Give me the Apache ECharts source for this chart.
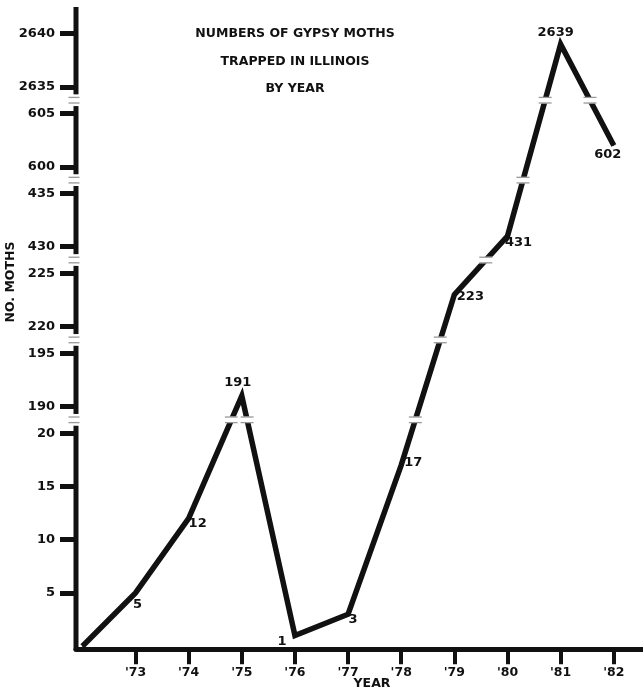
<!DOCTYPE html>
<html>
<head>
<meta charset="utf-8">
<script src="https://cdn.jsdelivr.net/npm/echarts@6/dist/echarts.min.js"></script>
<style>
  html, body { margin: 0; padding: 0; background: #fff; }
  #chart { width: 643px; height: 699px; }
</style>
</head>
<body>
<div id="chart"></div>
<script>
// gypsy moths trapped per year
const years = [1972, 1973, 1974, 1975, 1976, 1977, 1978, 1979, 1980, 1981, 1982];
const moths = [0, 5, 12, 191, 1, 3, 17, 223, 431, 2639, 602];
const yearTicks = [1973, 1974, 1975, 1976, 1977, 1978, 1979, 1980, 1981, 1982];
const yTickValues = [5, 10, 15, 20, 190, 195, 220, 225, 430, 435, 600, 605, 2635, 2640];

// broken y axis: real value where each piece starts, and where it sits on the drawn scale
const pieceStart = [0, 190, 220, 430, 600, 2635];
const pieceAt = [0, 22.5, 30, 37.5, 45, 52.5];

const INK = '#111';
const FONT = 'DejaVu Sans';
const X_MIN = 1971.88, X_MAX = 1982.55, Y_MAX = 60;

function toScale(v) {
  let k = 0;
  for (let i = 0; i < pieceStart.length; i++) {
    if (pieceStart[i] <= v) k = i;
  }
  return pieceAt[k] + v - pieceStart[k];
}

// break lines sit halfway between pieces
const breaks = pieceAt.slice(1).map(a => a - 1.25);
const yTickScaled = yTickValues.map(toScale);

// axis line pieces, with a small gap at every break
const axisPieces = [];
let lo = -0.4;
breaks.forEach(b => { axisPieces.push([X_MIN, lo, b - 0.55]); lo = b + 0.55; });
axisPieces.push([X_MIN, lo, Y_MAX]);

// where the data line crosses a break
const lineCuts = [];
for (let i = 1; i < years.length; i++) {
  const y0 = toScale(moths[i - 1]), y1 = toScale(moths[i]);
  breaks.forEach(b => {
    if ((y0 - b) * (y1 - b) < 0) {
      const t = (b - y0) / (y1 - y0);
      lineCuts.push([years[i - 1] + t * (years[i] - years[i - 1]), b]);
    }
  });
}

// label offsets (px from the point) for each year
const labelShift = [null, [2, 12], [9, 5], [-4, -13], [-13, 6], [5, 5], [12, -2], [16, 2], [11, 7], [-5, -12], [-6, 9]];

const lineData = years.map((yr, i) => ({
  value: [yr, toScale(moths[i])],
  label: labelShift[i] ? { show: true, offset: labelShift[i] } : { show: false }
}));

function breakMark(cx, cy, half, cut) {
  const children = [];
  if (cut) {
    children.push({ type: 'rect', shape: { x: cx - half - 3, y: cy - 3.2, width: 2 * half + 6, height: 6.4 }, style: { fill: '#fff' } });
  }
  children.push({ type: 'line', shape: { x1: cx - half, y1: cy - 2.8, x2: cx + half, y2: cy - 2.8 }, style: { stroke: '#999', lineWidth: 1.3 } });
  children.push({ type: 'line', shape: { x1: cx - half, y1: cy + 2.8, x2: cx + half, y2: cy + 2.8 }, style: { stroke: '#999', lineWidth: 1.3 } });
  return { type: 'group', children: children };
}

const chart = echarts.init(document.getElementById('chart'), null, { renderer: 'canvas' });

chart.setOption({
  animation: false,
  backgroundColor: '#fff',
  title: {
    text: 'NUMBERS OF GYPSY MOTHS\nTRAPPED IN ILLINOIS\nBY YEAR',
    left: 290,
    top: 15,
    textAlign: 'center',
    textStyle: { fontFamily: FONT, fontSize: 12.5, fontWeight: 'bold', color: INK, lineHeight: 27.5 }
  },
  grid: { left: 76, right: 0, top: 7, bottom: 52.8 },
  xAxis: {
    type: 'value',
    min: X_MIN,
    max: X_MAX,
    offset: 3,
    splitLine: { show: false },
    axisLine: { onZero: false, lineStyle: { color: INK, width: 5 } },
    axisTick: { customValues: yearTicks, length: 15, lineStyle: { color: INK, width: 4 } },
    axisLabel: {
      customValues: yearTicks,
      margin: 17,
      fontFamily: FONT, fontSize: 12.5, fontWeight: 'bold', color: INK,
      formatter: v => "'" + String(Math.round(v)).slice(2)
    }
  },
  yAxis: {
    type: 'value',
    min: 0,
    max: Y_MAX,
    splitLine: { show: false },
    axisLine: { show: false },
    axisTick: { show: true, customValues: yTickScaled, length: 16, lineStyle: { color: INK, width: 5 } },
    axisLabel: {
      customValues: yTickScaled,
      margin: 21,
      fontFamily: FONT, fontSize: 13, fontWeight: 'bold', color: INK,
      formatter: v => {
        const i = yTickScaled.findIndex(s => Math.abs(s - v) < 1e-6);
        return i < 0 ? '' : String(yTickValues[i]);
      }
    }
  },
  graphic: [
    {
      type: 'text', x: 11, y: 282, rotation: Math.PI / 2,
      style: { text: 'NO. MOTHS', align: 'center', verticalAlign: 'middle', font: 'bold 12.5px "DejaVu Sans"', fill: INK }
    },
    {
      type: 'text', x: 372, y: 684,
      style: { text: 'YEAR', align: 'center', verticalAlign: 'middle', font: 'bold 12.5px "DejaVu Sans"', fill: INK }
    }
  ],
  series: [
    {
      name: 'axis',
      type: 'custom',
      z: 2,
      silent: true,
      encode: { x: 0, y: [1, 2] },
      data: axisPieces,
      renderItem: function (params, api) {
        const a = api.coord([api.value(0), api.value(1)]);
        const b = api.coord([api.value(0), api.value(2)]);
        return { type: 'line', shape: { x1: a[0], y1: a[1], x2: b[0], y2: b[1] }, style: { stroke: INK, lineWidth: 5 } };
      }
    },
    {
      name: 'axisBreaks',
      type: 'custom',
      z: 3,
      silent: true,
      data: breaks.map(b => [X_MIN, b]),
      renderItem: function (params, api) {
        const p = api.coord([api.value(0), api.value(1)]);
        return breakMark(p[0] - 2, p[1], 5.5, false);
      }
    },
    {
      name: 'moths',
      type: 'line',
      z: 4,
      data: lineData,
      showSymbol: true,
      symbol: 'circle',
      symbolSize: 1,
      itemStyle: { color: INK },
      lineStyle: { color: INK, width: 5.5, join: 'miter', miterLimit: 20, cap: 'butt' },
      label: {
        position: 'inside',
        fontFamily: FONT, fontSize: 13, fontWeight: 'bold', color: INK,
        formatter: p => String(moths[p.dataIndex])
      }
    },
    {
      name: 'lineBreaks',
      type: 'custom',
      z: 5,
      silent: true,
      data: lineCuts,
      renderItem: function (params, api) {
        const p = api.coord([api.value(0), api.value(1)]);
        return breakMark(p[0], p[1], 6.5, true);
      }
    }
  ]
});
</script>
</body>
</html>
